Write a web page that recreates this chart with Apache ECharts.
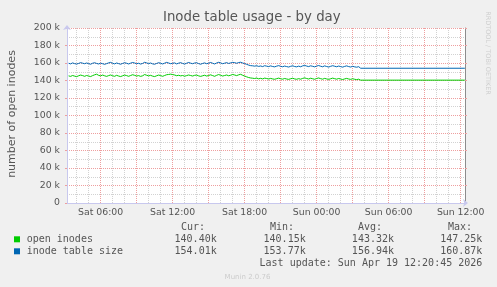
<!DOCTYPE html>
<html><head><meta charset="utf-8">
<script src="https://cdn.jsdelivr.net/npm/echarts@6/dist/echarts.min.js"></script>
<style>html,body{margin:0;padding:0;background:#f0f0f0}#c{width:497px;height:287px}</style>
</head><body><div id="c"></div><script>
const chartTitle = 'Inode table usage - by day';
const yName = 'number of open inodes';
const seriesNames = ['open inodes', 'inode table size'];
const seriesColors = ['#00cc00', '#0066b3'];
// hours since Sat 00:00
const startHour = 3 + 20 / 60;   // Sat 03:20
const stepHours = 10 / 60;       // 10-minute samples
const openInodes = [
  145.3,144.7,145.7,145.0,144.4,145.4,146.2,145.6,144.8,145.7,
  145.1,144.5,145.6,146.5,147.2,145.9,145.3,146.2,145.4,144.7,
  145.6,146.3,145.4,144.8,145.9,145.1,144.5,145.4,146.2,145.6,
  144.8,145.7,146.6,145.9,145.1,145.6,144.7,145.4,146.8,146.0,
  145.3,145.9,145.0,144.5,145.4,146.2,145.6,144.8,145.7,146.6,
  146.9,147.25,146.8,146.3,145.5,146.0,145.3,145.7,144.9,145.6,
  146.3,145.7,145.1,145.9,146.2,145.3,144.7,145.4,146.0,145.1,
  145.7,146.5,145.6,144.8,145.9,146.8,146.0,145.1,145.7,146.3,
  145.4,146.0,146.9,146.3,145.6,146.5,147.1,146.0,145.1,144.2,
  143.4,142.9,142.6,142.3,142.8,141.9,142.5,141.8,142.7,142.3,
  141.7,142.4,141.8,141.4,142.1,142.7,142.0,141.5,142.3,141.7,
  141.3,142.0,142.6,141.8,141.4,142.1,141.5,142.4,143.0,142.3,
  141.7,142.6,142.0,141.4,142.3,142.9,142.1,141.5,142.4,141.8,
  141.3,142.0,142.7,142.1,141.5,142.3,141.7,141.1,141.8,142.4,
  141.7,141.3,142.0,141.4,141.0,141.5
];
const tableSize = [
  159.7,159.0,160.1,159.3,158.8,159.5,160.4,159.8,159.2,160.0,
  159.3,158.6,159.7,160.3,159.5,158.9,159.8,159.2,158.5,159.3,
  160.1,160.7,159.7,159.0,160.0,159.3,158.6,159.5,160.3,159.7,
  158.9,159.8,160.6,160.0,159.2,159.7,158.8,159.5,160.8,160.1,
  159.3,160.0,159.0,158.6,159.5,160.3,159.7,158.9,159.8,160.7,
  160.0,159.2,159.7,160.1,159.0,159.8,160.4,159.5,158.8,159.7,
  160.6,159.8,159.2,160.0,160.3,159.3,158.6,159.5,160.1,159.2,
  159.8,160.6,159.7,158.9,160.0,160.8,160.1,159.2,159.8,160.4,
  159.5,160.1,160.7,160.4,159.7,160.5,160.87,160.0,159.3,158.5,
  157.6,157.0,156.8,156.4,156.9,156.1,156.6,155.9,156.9,156.4,
  155.9,156.7,156.0,155.6,156.4,157.0,156.2,155.7,156.5,155.9,
  155.4,156.2,156.8,156.0,155.6,156.4,155.7,156.7,157.2,156.5,
  155.9,156.8,156.2,155.6,156.5,157.1,156.3,155.7,156.7,156.0,
  155.4,156.2,156.9,156.3,155.7,156.5,155.9,155.3,156.1,156.7,
  155.9,155.4,156.2,155.6,155.2,155.8
];
const flatStartHour = 27 + 40 / 60;     // Sun 03:40
const endHour = 36 + 20.75 / 60;         // Sun 12:20:45
const openInodesLast = 140.40;
const tableSizeLast = 154.01;
const axisMinHour = 3.2;
const axisMaxHour = 36.36;
const xLabelHours = [6, 12, 18, 24, 30, 36];
const xLabels = ['Sat 06:00', 'Sat 12:00', 'Sat 18:00', 'Sun 00:00', 'Sun 06:00', 'Sun 12:00'];
const xMajorHours = [6, 9, 12, 15, 18, 21, 24, 27, 30, 33, 36];
const xMinorHours = [4, 5, 7, 8, 10, 11, 13, 14, 16, 17, 19, 20, 22, 23, 25, 26, 28, 29, 31, 32, 34, 35];
const yMax = 200000;
const yStep = 20000;
const statHeaders = ['Cur:', 'Min:', 'Avg:', 'Max:'];
const openStats = ['140.40k', '140.15k', '143.32k', '147.25k'];
const tableStats = ['154.01k', '153.77k', '156.94k', '160.87k'];
const lastUpdate = 'Last update: Sun Apr 19 12:20:45 2026';
const watermark = 'RRDTOOL / TOBI OETIKER';
const version = 'Munin 2.0.76';

function toPoints(vals, last) {
  const pts = vals.map((v, i) => [startHour + i * stepHours, v * 1000]);
  pts.push([flatStartHour, last * 1000]);
  pts.push([endHour, last * 1000]);
  return pts;
}

const FONT = 'DejaVu Sans';
const TXT = '#555555';
const RED = '#ee9f9f';
const GRAY = '#d2d2d2';
const AXIS = '#c8c8ee';

const chart = echarts.init(document.getElementById('c'), null, {renderer: 'canvas'});

const statCols = [216.7, 305.7, 394, 482.3];
const headerX = [181, 270, 358, 448];
const graphics = [
  {type: 'text', left: 163, top: 11, style: {text: chartTitle, font: '13.3px "DejaVu Sans"', fill: TXT}},
  {type: 'text', x: 11.7, y: 114, rotation: Math.PI / 2,
   style: {text: yName, font: '11px "DejaVu Sans"', fill: TXT, align: 'center', verticalAlign: 'middle'}},
  {type: 'text', x: 488, y: 53, rotation: -Math.PI / 2,
   style: {text: watermark, font: '6.5px "DejaVu Sans"', fill: '#cfcfcf', align: 'center', verticalAlign: 'middle'}},
  {type: 'text', x: 247.5, y: 277, style: {text: version, font: '7px "DejaVu Sans"', fill: '#cccccc', align: 'center', verticalAlign: 'middle'}},
  {type: 'text', x: 482.3, y: 263.3, style: {text: lastUpdate, font: '10px "DejaVu Sans Mono"', fill: TXT, align: 'right', verticalAlign: 'middle'}}
];
statHeaders.forEach((h, i) => graphics.push({type: 'text', x: headerX[i], y: 227.3,
  style: {text: h, font: '10px "DejaVu Sans Mono"', fill: TXT, align: 'left', verticalAlign: 'middle'}}));
[openStats, tableStats].forEach((row, r) => row.forEach((s, i) => graphics.push({type: 'text', x: statCols[i], y: 239.3 + r * 12,
  style: {text: s, font: '10px "DejaVu Sans Mono"', fill: TXT, align: 'right', verticalAlign: 'middle'}})));
seriesNames.forEach((n, r) => {
  graphics.push({type: 'rect', shape: {x: 14, y: 236.3 + r * 12, width: 6, height: 6}, style: {fill: seriesColors[r]}});
  graphics.push({type: 'text', x: 26.7, y: 239.3 + r * 12,
    style: {text: n, font: '10px "DejaVu Sans Mono"', fill: TXT, align: 'left', verticalAlign: 'middle'}});
});

chart.setOption({
  animation: false,
  backgroundColor: '#f0f0f0',
  grid: {left: 67, right: 32, top: 28, bottom: 84, show: true, backgroundColor: '#ffffff', borderWidth: 0},
  xAxis: [
    {type: 'value', min: axisMinHour, max: axisMaxHour, position: 'bottom',
     axisLine: {show: true, lineStyle: {color: AXIS, width: 1}, symbol: ['none', 'arrow'], symbolSize: [6, 5], symbolOffset: [0, 3]},
     axisTick: {show: false, customValues: xMajorHours},
     axisLabel: {show: true, customValues: xLabelHours, margin: 5,
       formatter: v => { const i = xLabelHours.indexOf(Math.round(v)); return i >= 0 ? xLabels[i] : ''; },
       color: TXT, fontFamily: FONT, fontSize: 9.33},
     splitLine: {show: true, lineStyle: {color: RED, type: 'dotted', width: 1}}},
    {type: 'value', min: axisMinHour, max: axisMaxHour, position: 'top',
     axisLine: {show: false}, axisLabel: {show: false},
     axisTick: {show: false, customValues: xMinorHours},
     splitLine: {show: true, lineStyle: {color: GRAY, type: 'dotted', width: 1}}}
  ],
  yAxis: [
    {type: 'value', min: 0, max: yMax, interval: yStep, position: 'left',
     axisLine: {show: true, lineStyle: {color: AXIS, width: 1}, symbol: ['none', 'arrow'], symbolSize: [6, 5], symbolOffset: [0, 3]},
     axisTick: {show: true, length: 2, lineStyle: {color: RED}},
     axisLabel: {color: TXT, fontFamily: FONT, fontSize: 9.33, margin: 7,
       formatter: v => v === 0 ? '0' : (v / 1000) + ' k'},
     splitLine: {show: true, lineStyle: {color: RED, type: 'dotted', width: 1}},
     minorTick: {show: false, splitNumber: 2},
     minorSplitLine: {show: true, lineStyle: {color: GRAY, type: 'dotted', width: 1}}},
    {type: 'value', min: 0, max: yMax, interval: yStep, position: 'right',
     axisLine: {show: true, lineStyle: {color: '#8c8c8c', width: 1}},
     axisTick: {show: true, length: 2, lineStyle: {color: RED}},
     axisLabel: {show: false}, splitLine: {show: false}}
  ],
  series: [
    {name: seriesNames[0], type: 'line', xAxisIndex: 0, yAxisIndex: 0, data: toPoints(openInodes, openInodesLast),
     showSymbol: false, lineStyle: {color: seriesColors[0], width: 1}, itemStyle: {color: seriesColors[0]}, z: 5},
    {name: seriesNames[1], type: 'line', xAxisIndex: 0, yAxisIndex: 0, data: toPoints(tableSize, tableSizeLast),
     showSymbol: false, lineStyle: {color: seriesColors[1], width: 1}, itemStyle: {color: seriesColors[1]}, z: 5}
  ],
  graphic: graphics
});
</script></body></html>
